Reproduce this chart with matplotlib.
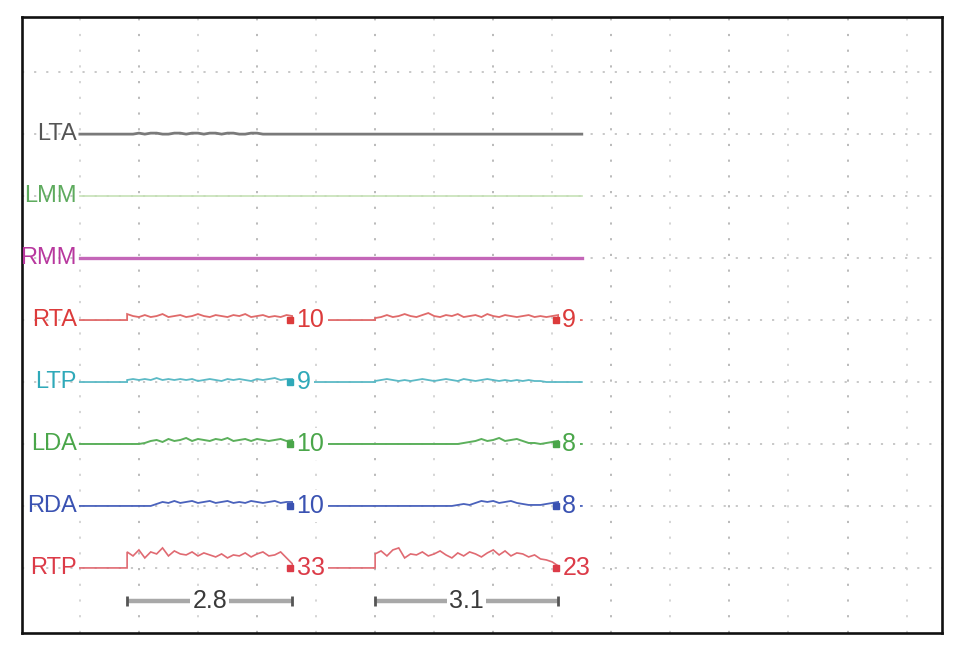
import numpy as np
import matplotlib
matplotlib.use("Agg")
import matplotlib.pyplot as plt

# ---------------- data ----------------
channels = ["LTA", "LMM", "RMM", "RTA", "LTP", "LDA", "RDA", "RTP"]
label_colors = ["#555555", "#5eab5e", "#b8389e", "#dc3b3b", "#2fa9b9", "#4aa64a", "#3a52b2", "#dc3b48"]
line_colors = ["#7a7a7a", "#c6e2b6", "#c466b8", "#e06a6a", "#5cbac6", "#5cb05c", "#4a62bc", "#e06a72"]
line_widths = [2.0, 1.2, 2.4, 1.3, 1.3, 1.4, 1.3, 1.2]

burst1 = (0.8, 3.6)     # seconds
burst2 = (5.0, 8.1)
trace_end = 8.5
trace_start = 0.0

# burst samples (pixel-like amplitude, positive = up)
LTA_b1 = [0, 0, 1, 0, 1, 1, 0, 0, 1, 1, 0, 1, 1, 0, 1, 1, 0, 1, 1, 0, 0, 1, 1, 0, 0, 0, 0, 0, 0]
LTA_b2 = []
LMM_b1 = []
LMM_b2 = []
RMM_b1 = []
RMM_b2 = []
RTA_b1 = [6, 4, 3, 5, 3, 4, 6, 3, 4, 5, 3, 4, 6, 4, 3, 5, 4, 3, 5, 4, 6, 3, 4, 5, 3, 4, 3, 5, 4]
RTA_b2 = [2, 3, 5, 3, 4, 6, 4, 3, 5, 7, 4, 3, 5, 4, 6, 3, 4, 5, 3, 6, 4, 3, 5, 4, 3, 4, 5, 3, 4, 3, 4, 5]
LTP_b1 = [2, 3, 2, 3, 2, 4, 2, 3, 2, 3, 2, 3, 1, 2, 3, 2, 1, 3, 2, 3, 2, 1, 3, 2, 3, 4, 2, 3, 3]
LTP_b2 = [1, 2, 3, 2, 1, 2, 1, 2, 3, 2, 1, 2, 3, 2, 1, 3, 2, 1, 2, 3, 2, 1, 2, 1, 2, 1, 2, 1, 1, 0, 0, 0]
LDA_b1 = [0, 0, 0, 1, 3, 4, 2, 5, 3, 4, 6, 3, 5, 4, 3, 5, 4, 6, 3, 4, 5, 3, 5, 4, 3, 4, 5, 3, 4]
LDA_b2 = [0, 0, 0, 0, 0, 0, 0, 0, 0, 0, 0, 0, 0, 0, 0, 1, 2, 3, 5, 3, 4, 6, 3, 4, 5, 3, 1, 1, 0, 1, 2, 3]
RDA_b1 = [0, 0, 0, 0, 0, 2, 4, 3, 5, 3, 4, 5, 3, 4, 5, 3, 4, 5, 3, 4, 3, 5, 4, 3, 4, 5, 3, 4, 4]
RDA_b2 = [0, 0, 0, 0, 0, 0, 0, 0, 0, 0, 0, 0, 0, 0, 1, 2, 1, 3, 5, 4, 5, 3, 4, 5, 3, 2, 1, 1, 1, 2, 3, 4]
RTP_b1 = [16, 12, 18, 10, 16, 14, 20, 12, 17, 14, 13, 16, 12, 15, 13, 11, 14, 10, 13, 12, 15, 11, 14, 16, 12, 13, 16, 10, 4]
RTP_b2 = [14, 17, 12, 18, 20, 10, 14, 13, 16, 12, 14, 17, 13, 10, 15, 12, 16, 14, 11, 15, 18, 13, 17, 12, 15, 14, 11, 13, 9, 8, 6, 2]

bursts = {
    "LTA": (LTA_b1, LTA_b2), "LMM": (LMM_b1, LMM_b2), "RMM": (RMM_b1, RMM_b2),
    "RTA": (RTA_b1, RTA_b2), "LTP": (LTP_b1, LTP_b2), "LDA": (LDA_b1, LDA_b2),
    "RDA": (RDA_b1, RDA_b2), "RTP": (RTP_b1, RTP_b2),
}

# counts shown at end of each burst (None = no value)
counts_b1 = [None, None, None, "10", "9", "10", "10", "33"]
counts_b2 = [None, None, None, "9", None, "8", "8", "23"]

# duration scale bars (seconds)
scale_starts = [0.8, 5.0]
scale_durations = [2.8, 3.1]
scale_labels = ["2.8", "3.1"]

PX_PER_UNIT = 62.0   # amplitude scaling: pixel-like units per row spacing

# ---------------- figure ----------------
font = ["Liberation Sans", "DejaVu Sans"]
lab_fs = 17
num_fs = 18

fig = plt.figure(figsize=(9.58, 6.62), dpi=100)
ax = fig.add_axes([22 / 958, 29 / 662, 920 / 958, 616 / 662])
ax.set_xlim(-0.98, 14.6)
ax.set_ylim(-8.05, 1.89)
ax.set_xticks([])
ax.set_yticks([])
for sp in ax.spines.values():
    sp.set_linewidth(1.9)
    sp.set_color("#111111")

# grid
for k in range(0, 15):
    col = "#b4b4b4" if k % 2 == 1 else "#d2d2d2"
    ax.axvline(k, color=col, lw=1.3, ls=(0, (1.2, 7.5)), zorder=0)
for r in range(1, -8, -1):
    ax.axhline(r, color="#c4c4c4", lw=1.3, ls=(0, (1.2, 5.5)), zorder=0)

for i, name in enumerate(channels):
    base = -i
    b1, b2 = bursts[name]
    xs = [trace_start, burst1[0]]
    ys = [0, 0]
    if b1:
        t1 = np.linspace(burst1[0], burst1[1], len(b1))
        xs += list(t1)
        ys += list(b1)
    xs += [burst1[1], burst2[0]]
    ys += [0, 0]
    if b2:
        t2 = np.linspace(burst2[0], burst2[1], len(b2))
        xs += list(t2)
        ys += list(b2)
    xs += [burst2[1], trace_end]
    ys += [0, 0]
    xs = np.array(xs)
    ys = base + np.array(ys, dtype=float) / PX_PER_UNIT
    ax.plot(xs, ys, color=line_colors[i], lw=line_widths[i], zorder=2,
            solid_joinstyle="miter")

    ax.text(-0.05, base, name, ha="right", va="center", fontsize=lab_fs,
            color=label_colors[i], family=font, zorder=4)

    for cnt, (bs, be) in ((counts_b1[i], burst1), (counts_b2[i], burst2)):
        if cnt is None:
            continue
        ax.plot([be - 0.04], [base], marker="s", ms=4.5, color=label_colors[i],
                zorder=5, lw=0)
        ax.text(be + 0.07, base, cnt, ha="left", va="center", fontsize=num_fs,
                color=label_colors[i], family=font, zorder=4,
                bbox=dict(boxstyle="square,pad=0.15", fc="white", ec="none"))

# scale bars
ybar = -7.53
for s, d, lab in zip(scale_starts, scale_durations, scale_labels):
    ax.plot([s, s + d], [ybar, ybar], color="#a8a8a8", lw=3.2, zorder=2,
            solid_capstyle="butt")
    ax.plot([s, s + d], [ybar, ybar], lw=0, marker="|", ms=7, mew=2,
            color="#555555", zorder=3)
    ax.text(s + d / 2, ybar, lab, ha="center", va="center", fontsize=num_fs,
            color="#3a3a3a", family=font, zorder=4,
            bbox=dict(boxstyle="square,pad=0.08", fc="white", ec="none"))

fig.savefig("out.png", dpi=100, facecolor="white")
